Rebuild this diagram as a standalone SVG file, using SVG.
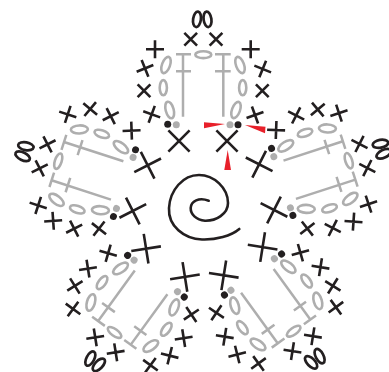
<svg xmlns="http://www.w3.org/2000/svg" width="389" height="372" viewBox="0 0 389 372">
<style>
.k{fill:none;stroke:#231f20;stroke-width:2.6}
.g{fill:none;stroke:#aeaeae;stroke-width:2.5}
.o{fill:none;stroke:#231f20;stroke-width:2.7}
.e{fill:none;stroke:#aeaeae;stroke-width:2.6}
.bd{fill:#231f20}
.gd{fill:#aeaeae}
.r{fill:#e8202a}
</style>
<defs>
<path id="c" class="k" d="M-9 0H9M0-9V9"/>
<path id="b" class="k" d="M-15 0H15M0-15V15"/>
<g id="petal">
<ellipse class="o" cx="197" cy="19.3" rx="3.9" ry="7.8" transform="rotate(8 197 19.3)"/>
<ellipse class="o" cx="207.5" cy="19.3" rx="3.9" ry="7.8" transform="rotate(-8 207.5 19.3)"/>
<use href="#c" transform="translate(190.7 39.3) rotate(45)"/>
<use href="#c" transform="translate(216 39.3) rotate(45)"/>
<use href="#c" transform="translate(155 49.3)"/>
<use href="#c" transform="translate(250.7 49.3)"/>
<use href="#c" transform="translate(145 68.3) rotate(-22)"/>
<use href="#c" transform="translate(144 90.7) rotate(45)"/>
<use href="#c" transform="translate(151.7 114.3) rotate(20)"/>
<use href="#c" transform="translate(262.7 69) rotate(22)"/>
<use href="#c" transform="translate(262.3 90.7) rotate(45)"/>
<use href="#c" transform="translate(255 115) rotate(-20)"/>
<use href="#b" transform="translate(179 141) rotate(45)"/>
<use href="#b" transform="translate(227 141) rotate(45)"/>
<circle class="bd" cx="167.7" cy="124.3" r="3.5"/>
<circle class="gd" cx="176.3" cy="124.7" r="3.5"/>
<circle class="gd" cx="230" cy="124.7" r="3.5"/>
<circle class="bd" cx="238" cy="124.7" r="3.5"/>
<path class="g" d="M183 55V116.7M176 54.3H191M176 71.3H191M223.3 55V116.7M215 54.3H230.7M215 71.3H230.7"/>
<ellipse class="e" cx="203.3" cy="54.7" rx="8" ry="3.4"/>
<ellipse class="e" cx="166" cy="65" rx="4" ry="8.5" transform="rotate(20 166 65)"/>
<ellipse class="e" cx="163.3" cy="87.7" rx="3.6" ry="7.6"/>
<ellipse class="e" cx="169.7" cy="110" rx="4" ry="8.5" transform="rotate(-15 169.7 110)"/>
<ellipse class="e" cx="240" cy="65" rx="4" ry="8.5" transform="rotate(-20 240 65)"/>
<ellipse class="e" cx="242.7" cy="87.7" rx="3.6" ry="7.6"/>
<ellipse class="e" cx="236" cy="110" rx="4" ry="8.5" transform="rotate(20 236 110)"/>
</g>
</defs>
<g id="petal-top"><use href="#petal"/></g>
<g id="petal-right"><use href="#petal" transform="translate(0.8 0.5) rotate(72 203 207)"/></g>
<g id="petal-lower-right"><use href="#petal" transform="translate(1.4 0.8) rotate(144 203 207)"/></g>
<g id="petal-lower-left"><use href="#petal" transform="translate(1.3 2.4) rotate(216 203 207)"/></g>
<g id="petal-left"><use href="#petal" transform="translate(0 1.5) rotate(288 203 207)"/></g>
<g id="center-spiral"><path class="k" d="M239.3 229C231 236 216 240 202 239.5C184 239 168 226 169 208C170 190 183 175 199 175C214 175 228 188 228 203C228 214 216 221 205 220.7C196 220 190.5 214 190.7 208C191 201 199 197 208.7 200.7" stroke-linecap="round"/></g>
<g id="markers">
<polygon class="r" points="204,122.3 204,128.3 225,124"/>
<polygon class="r" points="245,125 265.5,126.7 265,133.3"/>
<polygon class="r" points="227.7,150 224.3,170 231,170"/>
</g>
</svg>
